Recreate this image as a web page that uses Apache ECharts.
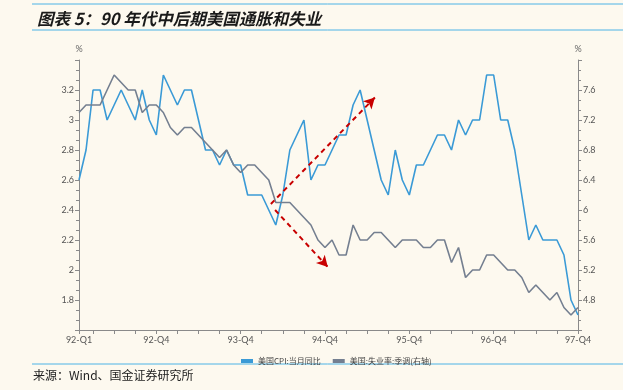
<!DOCTYPE html>
<html>
<head>
<meta charset="utf-8">
<script src="https://cdn.jsdelivr.net/npm/echarts@6/dist/echarts.min.js"></script>
<style>
html,body{margin:0;padding:0;background:#fdf9ef;}
#c{width:623px;height:390px;}
</style>
</head>
<body>
<div id="c"></div>
<script>
// Monthly categories, Jan 1992 – Dec 1997
const months = [
 "1992-01","1992-02","1992-03","1992-04","1992-05","1992-06","1992-07","1992-08","1992-09","1992-10","1992-11","1992-12",
 "1993-01","1993-02","1993-03","1993-04","1993-05","1993-06","1993-07","1993-08","1993-09","1993-10","1993-11","1993-12",
 "1994-01","1994-02","1994-03","1994-04","1994-05","1994-06","1994-07","1994-08","1994-09","1994-10","1994-11","1994-12",
 "1995-01","1995-02","1995-03","1995-04","1995-05","1995-06","1995-07","1995-08","1995-09","1995-10","1995-11","1995-12",
 "1996-01","1996-02","1996-03","1996-04","1996-05","1996-06","1996-07","1996-08","1996-09","1996-10","1996-11","1996-12",
 "1997-01","1997-02","1997-03","1997-04","1997-05","1997-06","1997-07","1997-08","1997-09","1997-10","1997-11","1997-12"
];
// x tick labels shown (index -> text)
const xLabelIndex = [0, 11, 23, 35, 47, 59, 71];
const xLabelText  = ["92-Q1","92-Q4","93-Q4","94-Q4","95-Q4","96-Q4","97-Q4"];

// 美国CPI:当月同比 (%)
const cpi = [
 2.6,2.8,3.2,3.2,3.0,3.1,3.2,3.1,3.0,3.2,3.0,2.9,
 3.3,3.2,3.1,3.2,3.2,3.0,2.8,2.8,2.7,2.8,2.7,2.7,
 2.5,2.5,2.5,2.4,2.3,2.5,2.8,2.9,3.0,2.6,2.7,2.7,
 2.8,2.9,2.9,3.1,3.2,3.0,2.8,2.6,2.5,2.8,2.6,2.5,
 2.7,2.7,2.8,2.9,2.9,2.8,3.0,2.9,3.0,3.0,3.3,3.3,
 3.0,3.0,2.8,2.5,2.2,2.3,2.2,2.2,2.2,2.1,1.8,1.7
];
// 美国:失业率:季调 (%), right axis
const unemp = [
 7.3,7.4,7.4,7.4,7.6,7.8,7.7,7.6,7.6,7.3,7.4,7.4,
 7.3,7.1,7.0,7.1,7.1,7.0,6.9,6.8,6.7,6.8,6.6,6.5,
 6.6,6.6,6.5,6.4,6.1,6.1,6.1,6.0,5.9,5.8,5.6,5.5,
 5.6,5.4,5.4,5.8,5.6,5.6,5.7,5.7,5.6,5.5,5.6,5.6,
 5.6,5.5,5.5,5.6,5.6,5.3,5.5,5.1,5.2,5.2,5.4,5.4,
 5.3,5.2,5.2,5.1,4.9,5.0,4.9,4.8,4.9,4.7,4.6,4.7
];
// annotation arrows: [startIndex, startCPI, endIndex, endCPI]
const arrows = [
 [27.3, 2.44, 42.1, 3.15],
 [27.9, 2.40, 35.4, 2.02]
];

const seriesNames = ["美国CPI:当月同比", "美国:失业率:季调(右轴)"];
const colors = ["#3a9ad6", "#747f90"];
const axisColor = "#8a8a8a";
const labelColor = "#555";

const chart = echarts.init(document.getElementById('c'), null, {renderer: 'canvas'});
const fmt1 = v => String(+(+v).toFixed(1));

chart.setOption({
  backgroundColor: '#fdf9ef',
  animation: false,
  textStyle: {fontFamily: 'Lato, "Noto Sans CJK SC", sans-serif'},
  title: {
    text: '图表 5：90 年代中后期美国通胀和失业',
    left: 32, top: 5,
    textStyle: {fontFamily: '"Noto Sans CJK SC", sans-serif', fontSize: 16.5, fontWeight: 'bold', fontStyle: 'italic', color: '#1a1a1a'}
  },
  graphic: [
    {type: 'line', shape: {x1: 32, y1: 4, x2: 623, y2: 4}, style: {stroke: '#4db3e6', lineWidth: 1}},
    {type: 'line', shape: {x1: 32, y1: 30, x2: 623, y2: 30}, style: {stroke: '#4db3e6', lineWidth: 1}},
    {type: 'line', shape: {x1: 32, y1: 364, x2: 623, y2: 364}, style: {stroke: '#4db3e6', lineWidth: 1}},
    {type: 'text', left: 33, top: 369, style: {text: '来源：Wind、国金证券研究所', fontSize: 12, fill: '#222', fontFamily: '"Noto Sans CJK SC", sans-serif'}}
  ],
  legend: {
    data: seriesNames,
    left: 236, top: 352,
    itemWidth: 12, itemHeight: 4, itemGap: 12,
    icon: 'rect',
    textStyle: {fontSize: 8, color: '#444', fontFamily: '"Noto Sans CJK SC", sans-serif'}
  },
  grid: {left: 79, right: 45, top: 60, bottom: 60, containLabel: false},
  xAxis: [{
    type: 'category',
    data: months,
    boundaryGap: false,
    axisLine: {lineStyle: {color: axisColor, width: 1}},
    axisTick: {show: true, length: 4, lineStyle: {color: axisColor},
      interval: (i) => i === 0 || i % 3 === 2},
    axisLabel: {
      interval: (i) => xLabelIndex.indexOf(i) >= 0,
      formatter: (v, i) => { const k = xLabelIndex.indexOf(i); return k >= 0 ? xLabelText[k] : ''; },
      fontSize: 9, color: labelColor, margin: 6
    },
    splitLine: {show: false}
  }, {
    type: 'value', min: 0, max: 71, show: false, gridIndex: 0
  }],
  yAxis: [{
    type: 'value', min: 1.6, max: 3.4, interval: 0.2,
    name: '%', nameLocation: 'end', nameGap: 6,
    nameTextStyle: {fontSize: 9, color: '#666', align: 'center'},
    axisLine: {show: true, lineStyle: {color: axisColor}},
    axisTick: {show: true, length: 4, lineStyle: {color: axisColor}},
    minorTick: {show: true, splitNumber: 3, length: 3, lineStyle: {color: axisColor}},
    axisLabel: {fontSize: 9, color: labelColor, margin: 5,
      formatter: v => (v < 1.7 || v > 3.3) ? '' : fmt1(v)},
    splitLine: {show: false}
  }, {
    type: 'value', min: 4.4, max: 8.0, interval: 0.4, position: 'right',
    name: '%', nameLocation: 'end', nameGap: 6,
    nameTextStyle: {fontSize: 9, color: '#666', align: 'center'},
    axisLine: {show: true, lineStyle: {color: axisColor}},
    axisTick: {show: true, length: 4, lineStyle: {color: axisColor}},
    minorTick: {show: true, splitNumber: 3, length: 3, lineStyle: {color: axisColor}},
    axisLabel: {fontSize: 9, color: labelColor, margin: 5,
      formatter: v => (v < 4.5 || v > 7.9) ? '' : fmt1(v)},
    splitLine: {show: false}
  }],
  series: [{
    name: seriesNames[0], type: 'line', data: cpi, xAxisIndex: 0, yAxisIndex: 0,
    symbol: 'none', lineStyle: {color: colors[0], width: 1.6}, itemStyle: {color: colors[0]}
  }, {
    name: seriesNames[1], type: 'line', data: unemp, xAxisIndex: 0, yAxisIndex: 1,
    symbol: 'none', lineStyle: {color: colors[1], width: 1.6}, itemStyle: {color: colors[1]}
  }, {
    name: 'arrows', type: 'line', data: [], xAxisIndex: 1, yAxisIndex: 0,
    symbol: 'none', silent: true,
    markLine: {
      silent: true, animation: false,
      symbol: ['none', 'arrow'], symbolSize: [9, 11],
      label: {show: false},
      lineStyle: {color: '#c80000', type: [5, 4], width: 2},
      data: arrows.map(a => [{coord: [a[0], a[1]]}, {coord: [a[2], a[3]]}])
    }
  }]
});
</script>
</body>
</html>
